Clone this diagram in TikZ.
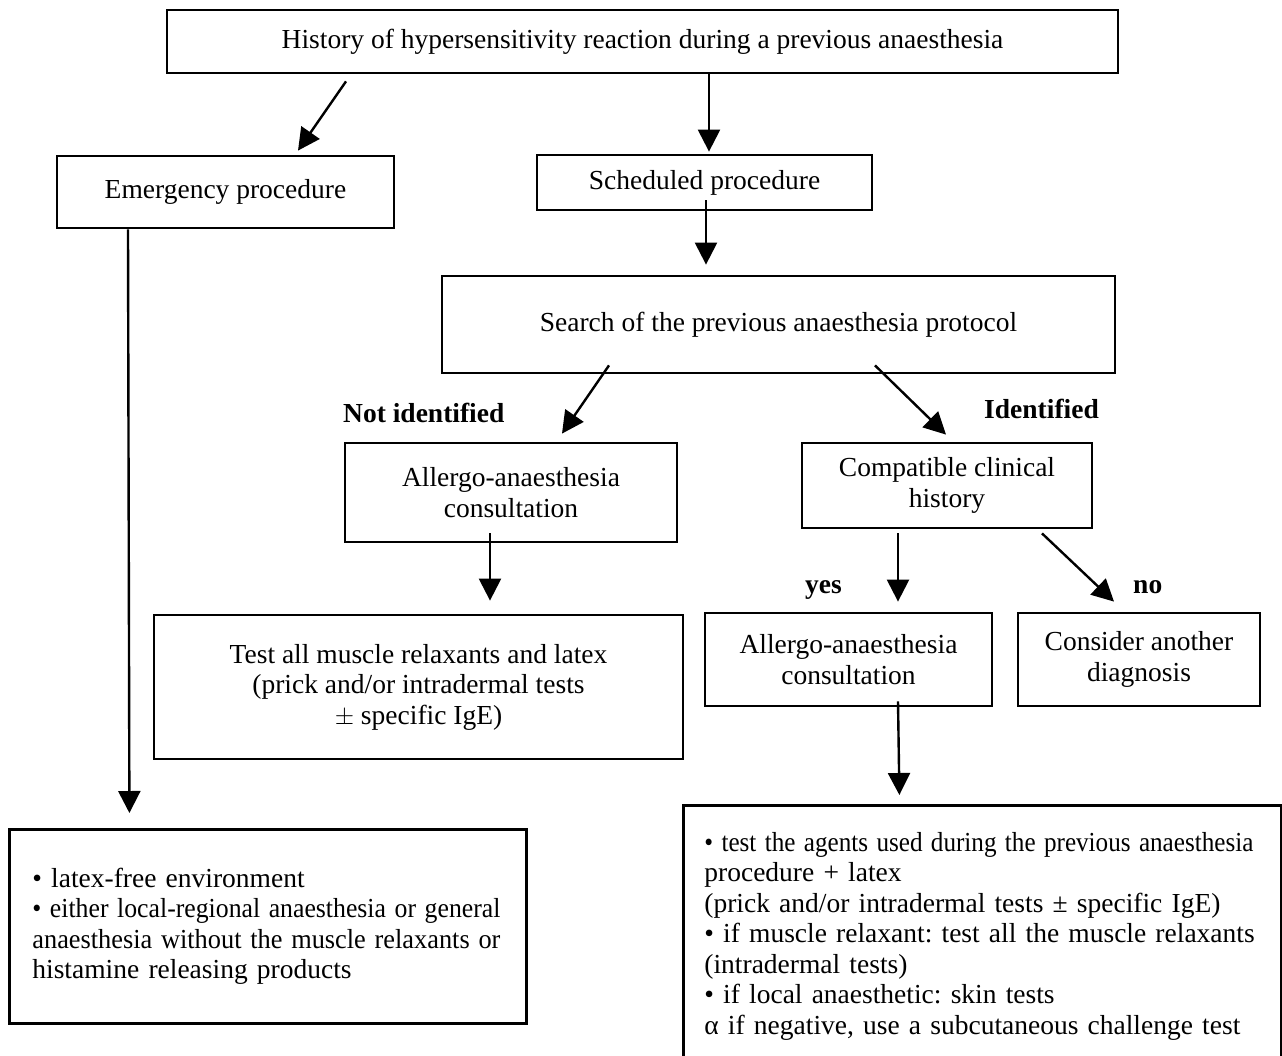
\documentclass[tikz,border=0pt]{standalone}
\usepackage{graphicx}
\usepackage{fontspec}
\setmainfont{Liberation Serif}
\usetikzlibrary{arrows.meta}
\newcommand{\fitto}[2]{\resizebox{#1}{\height}{#2}}
\begin{document}
\begin{tikzpicture}[x=1pt,y=-1pt,
  box/.style={draw=black, line width=2.8pt, fill=white, inner sep=0pt, align=center,
    font=\fontsize{27.5}{30.5}\selectfont\frenchspacing},
  lbl/.style={inner sep=0pt, font=\fontsize{27.5}{30.5}\selectfont\bfseries},
  arr/.style={line width=2.4pt, -{Triangle[length=22pt,width=22pt]}},
]
\path[use as bounding box] (0,0) rectangle (1282,1056);
\clip (0,0) rectangle (1282,1056);

% boxes
\node[box, minimum width=951pt, minimum height=63pt] (top) at (642.5,41.5)
  {History of hypersensitivity reaction during a previous anaesthesia};
\node[box, minimum width=337pt, minimum height=72pt] (emerg) at (225.5,192)
  {Emergency procedure};
\node[box, minimum width=335pt, minimum height=55pt] (sched) at (704.5,182.5)
  {Scheduled procedure};
\node[box, minimum width=673pt, minimum height=97pt] (search) at (778.5,324.5)
  {Search of the previous anaesthesia protocol};
\node[box, minimum width=332pt, minimum height=99pt] (allA) at (511,492.5)
  {Allergo-anaesthesia\\consultation};
\node[box, minimum width=290pt, minimum height=85pt] (compat) at (947,485.5)
  {Compatible clinical\\history};
\node[box, minimum width=529pt, minimum height=144pt] (test) at (418.5,687)
  {Test all muscle relaxants and latex\\(prick and/or intradermal tests\\$\pm$ specific IgE)};
\node[box, minimum width=287pt, minimum height=93pt] (allB) at (848.5,659.5)
  {Allergo-anaesthesia\\consultation};
\node[box, minimum width=242pt, minimum height=93pt] (consider) at (1139,659.5)
  {Consider another\\diagnosis};
\node[box, anchor=north west, minimum height=194pt, align=left, text width=471pt,
  inner xsep=23pt] (lbox) at (8,828)
  {\mbox{• latex-free environment}\\
   \fitto{468pt}{• either local-regional anaesthesia or general}\\
   \fitto{468pt}{anaesthesia without the muscle relaxants or}\\
   \mbox{histamine releasing products}};
\node[box, anchor=north west, align=left, text width=556pt, inner xsep=21pt,
  inner ysep=27pt] (rbox) at (682,804)
  {\fitto{549pt}{• test the agents used during the previous anaesthesia}\\
   \mbox{procedure + latex}\\
   \mbox{(prick and/or intradermal tests ± specific IgE)}\\
   \mbox{• if muscle relaxant: test all the muscle relaxants}\\
   \mbox{(intradermal tests)}\\
   \mbox{• if local anaesthetic: skin tests}\\
   \mbox{α if negative, use a subcutaneous challenge test}};

% labels
\node[lbl, anchor=base west] (notid) at (343,422) {Not identified};
\node[lbl, anchor=base west] (ident) at (984,418) {Identified};
\node[lbl, anchor=base west] (yes) at (805,593) {yes};
\node[lbl, anchor=base west] (no) at (1133,593) {no};

% connectors
\draw[arr] ([xshift=-296.5pt,yshift=-7pt]top.south) -- ([xshift=72.5pt,yshift=4pt]emerg.north);
\draw[arr] ([xshift=66.5pt]top.south) -- ([xshift=4.5pt,yshift=2pt]sched.north);
\draw[arr] ([xshift=1.5pt,yshift=11pt]sched.south) -- ([xshift=-72.5pt,yshift=10pt]search.north);
\draw[arr] ([xshift=-97.5pt]emerg.south) -- ([xshift=-138.5pt,yshift=15pt]lbox.north);
\draw[arr] ([xshift=-169.5pt,yshift=9pt]search.south) -- ([xshift=51pt,yshift=8pt]allA.north);
\draw[arr] ([xshift=96.5pt,yshift=9pt]search.south) -- ([xshift=-1pt,yshift=7pt]compat.north);
\draw[arr] ([xshift=-21pt,yshift=10pt]allA.south) -- ([xshift=71.5pt,yshift=13pt]test.north);
\draw[arr] ([xshift=-49pt,yshift=-4pt]compat.south) -- ([xshift=49.5pt,yshift=10pt]allB.north);
\draw[arr] ([xshift=95pt,yshift=-4pt]compat.south) -- ([xshift=-25pt,yshift=10pt]consider.north);
\draw[arr] ([xshift=49.5pt,yshift=6pt]allB.south) -- ([xshift=-83pt,yshift=9pt]rbox.north);
\end{tikzpicture}
\end{document}
